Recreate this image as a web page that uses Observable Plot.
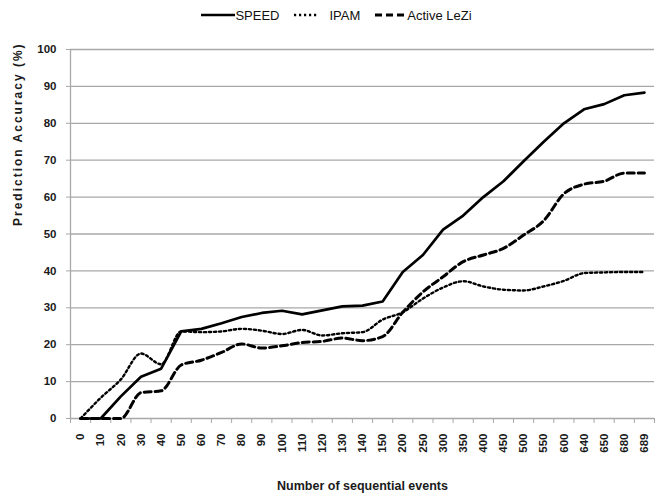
<!DOCTYPE html>
<html><head><meta charset="utf-8">
<script src="https://cdn.jsdelivr.net/npm/d3@7"></script>
<script src="https://cdn.jsdelivr.net/npm/@observablehq/plot@0.6"></script>
<style>
body{margin:0;background:#fff;font-family:"Liberation Sans Narrow","Liberation Sans",Arial,sans-serif;}
#legend{height:30px;width:661px;display:flex;justify-content:center;align-items:center;gap:15px;font-size:13px;color:#111;box-sizing:border-box;padding-left:12px;}
.item{display:flex;align-items:center;}
</style></head><body>
<div id="legend"></div><div id="chart"></div>
<script>
const categories = ["0","10","20","30","40","50","60","70","80","90","100","110","120","130","140","150","200","250","300","350","400","450","500","550","600","640","650","680","689"];
const speed = [0,0,6,11.3,13.5,23.6,24.3,25.8,27.5,28.6,29.2,28.2,29.3,30.4,30.6,31.7,39.7,44.3,51.2,55,60,64.3,69.7,75,80,83.8,85.2,87.6,88.3];
const ipam = [0,5.6,10.6,17.6,14.7,23.6,23.4,23.6,24.3,23.8,22.9,24,22.5,23.1,23.4,26.8,28.8,32.5,35.5,37.2,35.8,34.9,34.7,35.8,37.3,39.4,39.6,39.7,39.7];
const lezi = [0,0,0,7,7.5,14.5,15.8,17.9,20.2,19.1,19.7,20.6,20.9,21.8,21.1,22.2,28.8,34.3,38.4,42.5,44.3,46.1,49.7,53.6,60.9,63.5,64.3,66.5,66.5];
const seriesNames = ["SPEED","IPAM","Active LeZi"];
const yTicks = [0,10,20,30,40,50,60,70,80,90,100];

const styles = {
  "SPEED": {width: 2.7, dash: null, curve: "linear", legendW: 34, gap: 0},
  "IPAM": {width: 2.4, dash: "2.2,2.8", curve: "monotone-x", legendW: 24, gap: 11},
  "Active LeZi": {width: 3, dash: "7,4", curve: "monotone-x", legendW: 29, gap: 3}
};
const valuesBy = {"SPEED": speed, "IPAM": ipam, "Active LeZi": lezi};

const legend = document.getElementById("legend");
for (const name of seriesNames) {
  const s = styles[name];
  const item = document.createElement("div");
  item.className = "item";
  item.innerHTML = `<svg width="${s.legendW}" height="6" style="margin-right:${s.gap}px"><line x1="0" x2="${s.legendW}" y1="3" y2="3" stroke="#000" stroke-width="${s.width}" ${s.dash ? `stroke-dasharray="${s.dash}"` : ""}/></svg><span>${name}</span>`;
  legend.appendChild(item);
}

const n = categories.length;
const idx = d3.range(n);
const bounds = d3.range(n + 1).map(k => k - 0.5);
const grey = "#a8a8a8";
const font = "Liberation Sans, Arial, sans-serif";
const yTitle = "Prediction Accuracy (%)";

const plot = Plot.plot({
  width: 661, height: 466,
  marginTop: 19, marginBottom: 78, marginLeft: 70, marginRight: 7,
  x: {type: "linear", domain: [-0.5, n - 0.5], axis: null},
  y: {domain: [0, 100], axis: null},
  style: {fontFamily: font, background: "#fff", color: "#1a1a1a"},
  marks: [
    Plot.ruleY(yTicks.filter(t => t > 0), {stroke: grey, strokeWidth: 1.3}),
    Plot.ruleY([0], {stroke: grey, strokeWidth: 1.3}),
    Plot.ruleX([bounds[0]], {stroke: grey, strokeWidth: 1.3}),
    Plot.axisY(yTicks, {tickSize: 4, stroke: grey, tickFormat: () => "", label: null}),
    Plot.axisY(yTicks, {tickSize: 0, tickPadding: 14, fontWeight: "bold", fontSize: 11.5, fill: "#1a1a1a", label: null}),
    Plot.axisX(bounds, {tickSize: 5, stroke: grey, tickFormat: () => "", label: null}),
    Plot.text(idx, {x: d => d, y: () => 0, text: d => categories[d], rotate: -90, textAnchor: "end", dy: 15, fontWeight: "bold", fontSize: 11.5, fill: "#1a1a1a"}),
    Plot.text(["Number of sequential events"], {frameAnchor: "bottom", dy: 71, fontWeight: "bold", fontSize: 12.5, fill: "#1a1a1a"}),
    Plot.text([yTitle], {frameAnchor: "left", dx: -52, dy: -8, rotate: -90, fontWeight: "bold", fontSize: 12, fill: "#1a1a1a"}),
    ...seriesNames.slice().reverse().map(name => {
      const s = styles[name];
      return Plot.line(valuesBy[name], {x: (d, i) => i, y: d => d, stroke: "#000", strokeWidth: s.width, strokeDasharray: s.dash, curve: s.curve});
    })
  ]
});
d3.select(plot).selectAll("text").filter(function() { return this.textContent === yTitle; }).style("letter-spacing", "2px");
document.getElementById("chart").appendChild(plot);
</script>
</body></html>
